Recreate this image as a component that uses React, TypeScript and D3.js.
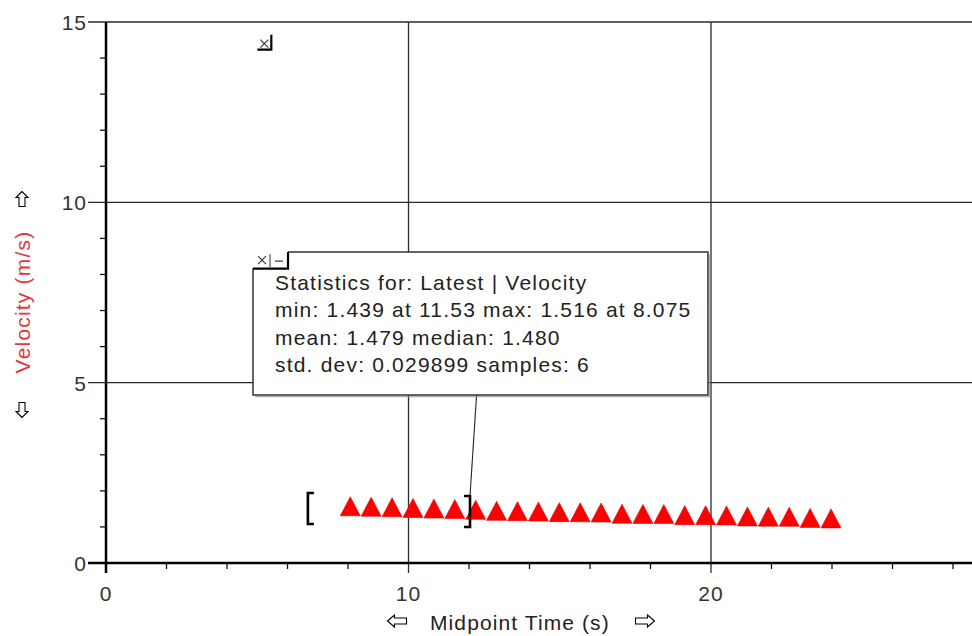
import React from 'react';
import * as d3 from 'd3';

// midpoint time (s) and velocity (m/s)
const times = [8.075, 8.766, 9.457, 10.148, 10.839, 11.53, 12.221, 12.912, 13.603, 14.294, 14.985, 15.676,
  16.367, 17.058, 17.749, 18.44, 19.131, 19.822, 20.513, 21.204, 21.895, 22.586, 23.277, 23.968];
const velocity = [1.516, 1.505, 1.49, 1.47, 1.454, 1.439, 1.42, 1.39, 1.38, 1.37, 1.355, 1.35,
  1.345, 1.31, 1.305, 1.3, 1.27, 1.268, 1.262, 1.235, 1.23, 1.225, 1.195, 1.18];

const xMajor = [0, 10, 20];
const xMinor = [2, 4, 6, 8, 12, 14, 16, 18, 22, 24, 26, 28];
const yMajor = [0, 5, 10, 15];
const yMinor = [1, 2, 3, 4, 6, 7, 8, 9, 11, 12, 13, 14];

const statsLines = [
  'Statistics for: Latest | Velocity',
  'min: 1.439 at 11.53 max: 1.516 at 8.075',
  'mean: 1.479 median: 1.480',
  'std. dev: 0.029899 samples: 6',
];

// annotation anchors in data units
const selection = { from: 6.74, fromV: 1.511, to: 12.0, toV: 1.428 };
const statsBox = { x0: 4.86, x1: 19.9, v0: 8.62, v1: 4.66 };
const closedMarker = { t: 5.3, v: 14.4 };

const FONT = '"Liberation Sans", Arial, sans-serif';

const Cross = ({ cx, cy }: { cx: number, cy: number }) => (
  <path d={`M${cx - 4},${cy - 4}L${cx + 4},${cy + 4}M${cx + 4},${cy - 4}L${cx - 4},${cy + 4}`} stroke="#333" strokeWidth={1.1} />
);

const App = () => {
  const W = 972, H = 636;
  const margin = { top: 22, right: 0, bottom: 73, left: 106 };
  const x = d3.scaleLinear().domain([0, (W - margin.left) / 30.25]).range([margin.left, W - margin.right]);
  const y = d3.scaleLinear().domain([0, 15]).range([H - margin.bottom, margin.top]);
  const y0 = y(0);
  const x0 = x(0);

  const tri = (cx: number, cy: number) =>
    `M${cx},${cy - 11.5}L${cx + 10},${cy + 7.5}L${cx - 10},${cy + 7.5}Z`;

  const bx0 = x(statsBox.x0), bx1 = x(statsBox.x1), by0 = y(statsBox.v0), by1 = y(statsBox.v1);
  const lx = x(selection.from), ly = y(selection.fromV);
  const rx = x(selection.to), ry = y(selection.toV);
  const mk = { x: x(closedMarker.t), y: y(closedMarker.v) };

  const hArrow = (cx: number, cy: number, dir: number) => {
    const p = [[-9.5, 0], [-2.5, -6], [-2.5, -3], [9.5, -3], [9.5, 3], [-2.5, 3], [-2.5, 6]];
    return 'M' + p.map(([a, b]) => `${cx + a * dir},${cy + b}`).join('L') + 'Z';
  };
  const vArrow = (cx: number, cy: number, dir: number) => {
    const p = [[0, -7.5], [-6, -1.5], [-3, -1.5], [-3, 7.5], [3, 7.5], [3, -1.5], [6, -1.5]];
    return 'M' + p.map(([a, b]) => `${cx + a},${cy + b * dir}`).join('L') + 'Z';
  };

  return (
    <svg width={W} height={H} style={{ position: 'absolute', left: 0, top: 0, background: '#fff' }}
      fontFamily={FONT}>
      {/* grid */}
      {xMajor.filter(d => d > 0).map(d =>
        <line key={'gx' + d} x1={x(d)} x2={x(d)} y1={margin.top} y2={y0 + 10} stroke="#2a2a2a" strokeWidth={1.3} />)}
      {yMajor.filter(d => d > 0).map(d =>
        <line key={'gy' + d} x1={x0 - 18} x2={W} y1={y(d)} y2={y(d)} stroke="#2a2a2a" strokeWidth={1.3} />)}

      {/* minor ticks */}
      {xMinor.map(d => <line key={'mx' + d} x1={x(d)} x2={x(d)} y1={y0} y2={y0 + 6} stroke="#111" strokeWidth={1.3} />)}
      {yMinor.map(d => <line key={'my' + d} x1={x0 - 6} x2={x0} y1={y(d)} y2={y(d)} stroke="#111" strokeWidth={1.3} />)}

      {/* axes */}
      <line x1={x0} x2={x0} y1={margin.top} y2={y0 + 10} stroke="#000" strokeWidth={2.5} />
      <line x1={x0 - 18} x2={W} y1={y0} y2={y0} stroke="#000" strokeWidth={2.5} />

      {/* tick labels */}
      {yMajor.map(d =>
        <text key={'ly' + d} x={x0 - 19} y={y(d) + 8} textAnchor="end" fontSize={21} fill="#333" letterSpacing={1}>{d}</text>)}
      {xMajor.map(d =>
        <text key={'lx' + d} x={x(d)} y={y0 + 38} textAnchor="middle" fontSize={21} fill="#333" letterSpacing={1}>{d}</text>)}

      {/* axis titles */}
      <path d={hArrow(397, 621, 1)} fill="#fff" stroke="#000" strokeWidth={1.1} />
      <text x={430} y={630} fontSize={21} fill="#222" letterSpacing={1.1}>Midpoint Time (s)</text>
      <path d={hArrow(645, 621, -1)} fill="#fff" stroke="#000" strokeWidth={1.1} />

      <path d={vArrow(22, 199, 1)} fill="#fff" stroke="#000" strokeWidth={1.1} />
      <text transform="translate(30,302) rotate(-90)" textAnchor="middle" fontSize={21} fill="#e0383c" letterSpacing={1.2}>Velocity (m/s)</text>
      <path d={vArrow(22, 410, -1)} fill="#fff" stroke="#000" strokeWidth={1.1} />

      {/* data */}
      {times.map((t, i) =>
        <path key={'p' + i} d={tri(x(t), y(velocity[i]))} fill="#ff0000" stroke="#e00000" strokeWidth={0.6} />)}

      {/* selection brackets */}
      <path d={`M${lx + 4},${ly - 15.5}H${lx - 2}V${ly + 15.5}H${lx + 4}`} fill="none" stroke="#000" strokeWidth={2.6} />
      <path d={`M${rx - 5},${ry - 15.5}H${rx + 1}V${ry + 15.5}H${rx - 5}`} fill="none" stroke="#000" strokeWidth={2.6} />
      <line x1={x(12.25)} y1={by1} x2={rx + 1} y2={ry - 15.5} stroke="#222" strokeWidth={1.1} />

      {/* closed annotation marker */}
      <g>
        <Cross cx={mk.x - 2} cy={mk.y} />
        <path d={`M${mk.x + 5},${mk.y - 9}V${mk.y + 6}H${mk.x - 9}`} fill="none" stroke="#000" strokeWidth={2.2} />
      </g>

      {/* statistics box */}
      <path d={`M${bx0 + 35},${by0}H${bx1}V${by1}H${bx0}V${by0 + 16.5}`} fill="#fff" stroke="#333" strokeWidth={1.5} />
      <path d={`M${bx1 + 1.8},${by0 + 2}V${by1 + 1.8}H${bx0 + 2}`} fill="none" stroke="#999" strokeWidth={1} />
      <rect x={bx0 + 1} y={by0 + 16} width={bx1 - bx0 - 2} height={10} fill="#fff" />
      <path d={`M${bx0},${by0 + 16.5}H${bx0 + 35}V${by0}`} fill="none" stroke="#000" strokeWidth={2.2} />
      <Cross cx={bx0 + 9} cy={by0 + 8} />
      <line x1={bx0 + 17} x2={bx0 + 17} y1={by0 + 2} y2={by0 + 15} stroke="#333" strokeWidth={1} />
      <line x1={bx0 + 22} x2={bx0 + 30} y1={by0 + 9} y2={by0 + 9} stroke="#333" strokeWidth={1.2} />
      {statsLines.map((s, i) =>
        <text key={'s' + i} x={bx0 + 22} y={by0 + 38 + i * 27.3} fontSize={21} fill="#222" letterSpacing={1.2}>{s}</text>)}
    </svg>
  );
};

export default App;
